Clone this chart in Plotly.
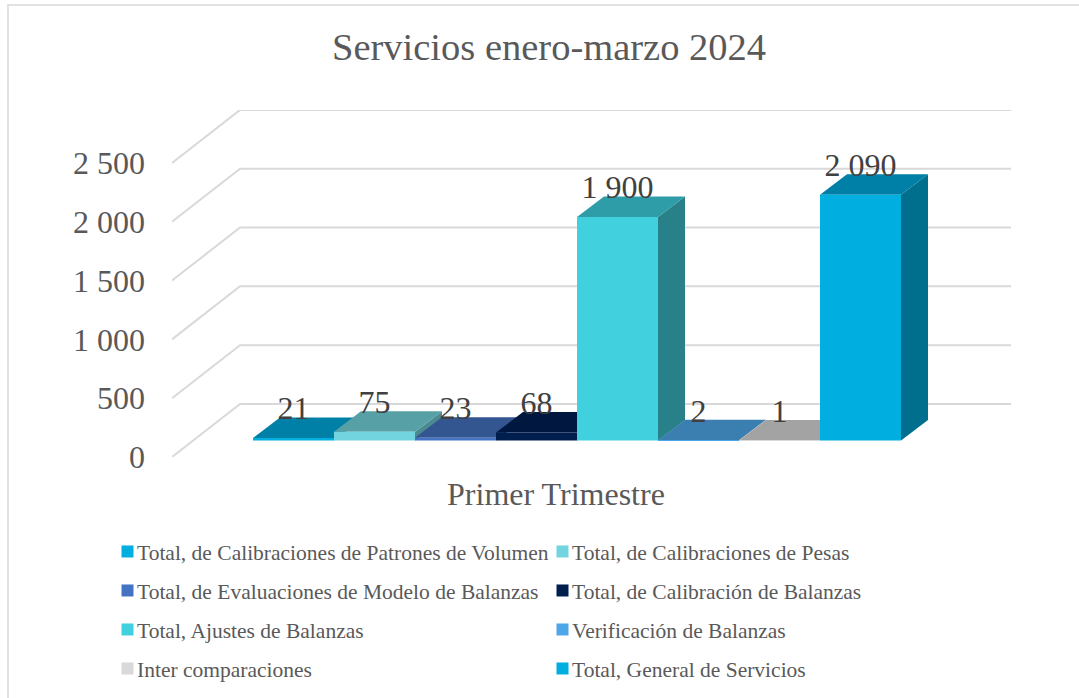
import plotly.graph_objects as go

series_names = [
    "Total, de Calibraciones de Patrones de Volumen",
    "Total, de Calibraciones de Pesas",
    "Total, de Evaluaciones de Modelo de Balanzas",
    "Total, de Calibración de Balanzas",
    "Total, Ajustes de Balanzas",
    "Verificación de Balanzas",
    "Inter comparaciones",
    "Total, General de Servicios",
]
series_values = [21, 75, 23, 68, 1900, 2, 1, 2090]
value_labels = ["21", "75", "23", "68", "1 900", "2", "1", "2 090"]
y_ticks = [0, 500, 1000, 1500, 2000, 2500]
y_tick_labels = ["0", "500", "1 000", "1 500", "2 000", "2 500"]
category_label = "Primer Trimestre"

front_colors = ["#00AEDF", "#72D4DF", "#4472C4", "#001F4E", "#40D0DE", "#4DA6E8", "#D9D9D9", "#00AEDF"]
top_colors = ["#0080A6", "#57A0A5", "#335590", "#001740", "#2F9DA7", "#3A7FAF", "#A3A3A3", "#0080A6"]
side_colors = ["#006F8E", "#4A8A90", "#2C4A7E", "#001236", "#288188", "#316E98", "#8C8C8C", "#006F8E"]

W, H = 1079, 698
L, R, T, B = 172, 1011, 110, 457
X_RANGE = [-1, 9.358]
Y_RANGE = [0, 2950]
FLOOR = 140
LABEL_LIFT = 90
DEPTH_X, DEPTH_Y = 1 / 3, 174
WALL_X, WALL_Y = 0.84, 451
GRID = "#D9D9D9"
TEXT = "#595959"
FONT = "Liberation Serif"

fig = go.Figure()

for t in y_ticks:
    fig.add_trace(go.Scatter(
        x=[X_RANGE[0], X_RANGE[0] + WALL_X, X_RANGE[1]],
        y=[t, t + WALL_Y, t + WALL_Y],
        mode="lines", line=dict(color=GRID, width=2),
        showlegend=False, hoverinfo="skip", cliponaxis=False,
    ))

for i, v in enumerate(series_values):
    x0, x1 = i, i + 1
    top = FLOOR + v
    fig.add_trace(go.Scatter(
        x=[x1, x1 + DEPTH_X, x1 + DEPTH_X, x1, x1],
        y=[FLOOR, FLOOR + DEPTH_Y, top + DEPTH_Y, top, FLOOR],
        mode="lines", fill="toself", fillcolor=side_colors[i],
        line=dict(width=0), showlegend=False, hoverinfo="skip",
    ))
    fig.add_trace(go.Scatter(
        x=[x0, x1, x1 + DEPTH_X, x0 + DEPTH_X, x0],
        y=[top, top, top + DEPTH_Y, top + DEPTH_Y, top],
        mode="lines", fill="toself", fillcolor=top_colors[i],
        line=dict(width=0), showlegend=False, hoverinfo="skip",
    ))

for i, v in enumerate(series_values):
    fig.add_trace(go.Bar(
        x=[i + 0.5], y=[v], base=FLOOR, width=1,
        name=series_names[i], marker=dict(color=front_colors[i], line=dict(width=0)),
        xaxis="x2", yaxis="y2", legend="legend" if i == 0 else f"legend{i + 1}",
    ))

fig.add_trace(go.Scatter(
    x=[i + 0.5 for i in range(len(series_values))],
    y=[FLOOR + LABEL_LIFT + v for v in series_values],
    text=value_labels, mode="text", textposition="top center",
    textfont=dict(family=FONT, size=32, color="#404040"),
    xaxis="x2", yaxis="y2", showlegend=False, hoverinfo="skip", cliponaxis=False,
))

legend_rows = [572, 611, 650, 689]
legend_cols = [97, 532]
legends = {}
for i in range(len(series_names)):
    key = "legend" if i == 0 else f"legend{i + 1}"
    legends[key] = dict(
        x=legend_cols[i % 2] / W, xanchor="left",
        y=1 - legend_rows[i // 2] / H, yanchor="bottom",
        bgcolor="rgba(0,0,0,0)", borderwidth=0,
        font=dict(family=FONT, size=21.5, color=TEXT),
    )

x_dom = [L / W, R / W]
y_dom = [1 - B / H, 1 - T / H]

fig.update_layout(
    width=W, height=H, autosize=False,
    margin=dict(l=0, r=0, t=0, b=0, pad=0),
    paper_bgcolor="white", plot_bgcolor="rgba(0,0,0,0)",
    barmode="overlay",
    title=dict(text="Servicios enero-marzo 2024", x=549 / W, xanchor="center",
               y=1 - 47 / H, yanchor="middle",
               font=dict(family=FONT, size=38.5, color=TEXT)),
    xaxis=dict(domain=x_dom, range=X_RANGE, showgrid=False, zeroline=False, showline=False,
               automargin=False,
               tickmode="array", tickvals=[3.74], ticktext=[category_label], ticks="",
               ticklabelstandoff=15, tickfont=dict(family=FONT, size=32, color=TEXT)),
    yaxis=dict(domain=y_dom, range=Y_RANGE, showgrid=False, zeroline=False, showline=False,
               automargin=False,
               tickmode="array", tickvals=y_ticks, ticktext=y_tick_labels, ticks="",
               ticklabelstandoff=26, tickfont=dict(family=FONT, size=32, color=TEXT)),
    xaxis2=dict(domain=x_dom, range=X_RANGE, overlaying="x", visible=False, automargin=False),
    yaxis2=dict(domain=y_dom, range=Y_RANGE, overlaying="y", visible=False, automargin=False),
    shapes=[dict(type="rect", xref="paper", yref="paper",
                 x0=8 / W, x1=1.01, y0=-0.01, y1=1 - 5 / H,
                 line=dict(color=GRID, width=1.5), layer="below")],
    **legends,
)

fig.write_html(
    "out.html", config=dict(displayModeBar=False),
    post_script=(
        "document.body.style.margin='0';"
        "document.querySelectorAll('.legendsymbols').forEach(function(e){"
        "e.setAttribute('transform','translate(10.5,0)');});"
    ),
)
